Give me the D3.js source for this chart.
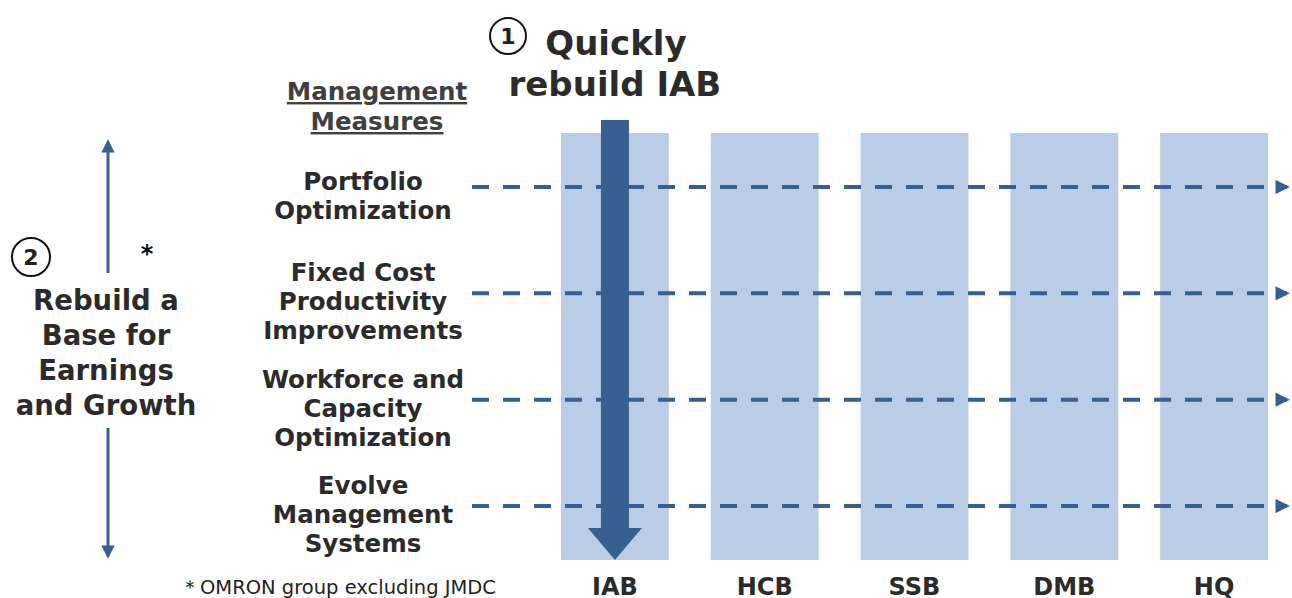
<!DOCTYPE html>
<html>
<head>
<meta charset="utf-8">
<style>
  body { margin: 0; background: #fff; font-family: "DejaVu Sans", Verdana, sans-serif; }
  svg text { fill: #2b2b2b; font-weight: bold; }
</style>
<script src="https://d3js.org/d3.v7.min.js"></script>
</head>
<body>
<script>

// divisions (columns)
var divisions = ["IAB", "HCB", "SSB", "DMB", "HQ"];
// management measures (rows), one array of lines per row
var measures = [
	["Portfolio", "Optimization"],
	["Fixed Cost", "Productivity", "Improvements"],
	["Workforce and", "Capacity", "Optimization"],
	["Evolve", "Management", "Systems"]
];
var measuresTitle = ["Management", "Measures"];
var mainTitle = ["Quickly", "rebuild IAB"];
var focusDivision = "IAB";
var sideTitle = ["Rebuild a", "Base for", "Earnings", "and Growth"];
var footnote = "\uFF0AOMRON group excluding JMDC";

var W = 1292, H = 598;
var blueLight = "#b9cde6", blueDark = "#375f90";

var svg = d3.select("body").append("svg")
	.attr("width", W).attr("height", H);

var defs = svg.append("defs");
function addMarker(id, size) {
	defs.append("marker")
		.attr("id", id)
		.attr("viewBox", "0 0 10 10")
		.attr("refX", 8).attr("refY", 5)
		.attr("markerWidth", size).attr("markerHeight", size)
		.attr("markerUnits", "strokeWidth")
		.attr("orient", "auto")
		.append("path").attr("d", "M0,0 L10,5 L0,10 z").attr("fill", blueDark);
}
addMarker("headDash", 3.6);
addMarker("headSide", 4.4);

/* scales */

var x = d3.scaleBand().domain(divisions).range([561, 1268]).paddingInner(0.28);
var y = d3.scalePoint().domain(d3.range(measures.length)).range([187, 506]);

var colTop = 133, colBottom = 560;

/* columns */

svg.selectAll("rect.col")
	.data(divisions)
	.enter().append("rect")
	.attr("class", "col")
	.attr("x", function(d) { return x(d); })
	.attr("y", colTop)
	.attr("width", x.bandwidth())
	.attr("height", colBottom - colTop)
	.attr("fill", blueLight);

svg.selectAll("text.col")
	.data(divisions)
	.enter().append("text")
	.attr("class", "col")
	.attr("x", function(d) { return x(d) + x.bandwidth() / 2; })
	.attr("y", 595)
	.attr("text-anchor", "middle")
	.style("font-size", "24px")
	.text(function(d) { return d; });

/* dashed arrows */

svg.selectAll("line.measure")
	.data(measures)
	.enter().append("line")
	.attr("class", "measure")
	.attr("x1", 472).attr("x2", 1287)
	.attr("y1", function(d, i) { return y(i); })
	.attr("y2", function(d, i) { return y(i); })
	.attr("stroke", blueDark)
	.attr("stroke-width", 4)
	.attr("stroke-dasharray", "17,14")
	.attr("marker-end", "url(#headDash)");

/* measure labels */

var lineH = 29;
svg.selectAll("text.measure")
	.data(measures)
	.enter().append("text")
	.attr("class", "measure")
	.attr("text-anchor", "middle")
	.style("font-size", "24.5px")
	.each(function(d, i) {
		var t = d3.select(this);
		var top = y(i) + 8 - (d.length - 1) * lineH / 2 + 9;
		d.forEach(function(s, j) {
			t.append("tspan").attr("x", 363).attr("y", top + j * lineH).text(s);
		});
	});

svg.append("text")
	.attr("text-anchor", "middle")
	.style("font-size", "24.5px")
	.style("fill", "#404040")
	.style("text-decoration", "underline")
	.selectAll("tspan")
	.data(measuresTitle)
	.enter().append("tspan")
	.attr("x", 377)
	.attr("y", function(d, i) { return 100 + i * 30; })
	.text(function(d) { return d; });

/* big arrow over the focus division */

var cx = x(focusDivision) + x.bandwidth() / 2;
var shaftW = 28, headW = 54, headH = 32;
svg.append("path")
	.attr("d", d3.line()([
		[cx - shaftW / 2, 120], [cx + shaftW / 2, 120],
		[cx + shaftW / 2, colBottom - headH], [cx + headW / 2, colBottom - headH],
		[cx, colBottom], [cx - headW / 2, colBottom - headH],
		[cx - shaftW / 2, colBottom - headH]
	]) + "Z")
	.attr("fill", blueDark);

svg.append("text")
	.attr("text-anchor", "middle")
	.style("font-size", "34px")
	.selectAll("tspan")
	.data(mainTitle)
	.enter().append("tspan")
	.attr("x", function(d, i) { return i === 0 ? cx + 1 : cx; })
	.attr("y", function(d, i) { return 55 + i * 41; })
	.text(function(d) { return d; });

function circledNumber(g, cxp, cyp, r, n, fs) {
	g.append("circle").attr("cx", cxp).attr("cy", cyp).attr("r", r)
		.attr("fill", "none").attr("stroke", "#111").attr("stroke-width", 2);
	g.append("text").attr("x", cxp).attr("y", cyp + fs * 0.36)
		.attr("text-anchor", "middle").style("font-size", fs + "px")
		.style("fill", "#222").text(n);
}
circledNumber(svg, 508, 36, 18, "1", 22);
circledNumber(svg, 31, 257, 19, "2", 22);

/* left double arrow */

var ax = 108;
svg.append("line")
	.attr("x1", ax).attr("x2", ax).attr("y1", 273).attr("y2", 142)
	.attr("stroke", blueDark).attr("stroke-width", 3)
	.attr("marker-end", "url(#headSide)");
svg.append("line")
	.attr("x1", ax).attr("x2", ax).attr("y1", 428).attr("y2", 556)
	.attr("stroke", blueDark).attr("stroke-width", 3)
	.attr("marker-end", "url(#headSide)");

svg.append("text")
	.attr("x", 147).attr("y", 262)
	.attr("text-anchor", "middle")
	.style("font-size", "24px").style("fill", "#111")
	.text("*");

svg.append("text")
	.attr("text-anchor", "middle")
	.style("font-size", "27.5px")
	.selectAll("tspan")
	.data(sideTitle)
	.enter().append("tspan")
	.attr("x", 106)
	.attr("y", function(d, i) { return 310 + i * 35; })
	.text(function(d) { return d; });

/* footnote */

svg.append("text")
	.attr("x", 180).attr("y", 594)
	.style("font-size", "19.5px").style("font-weight", "normal").style("fill", "#222")
	.text(footnote);

</script>
</body>
</html>
